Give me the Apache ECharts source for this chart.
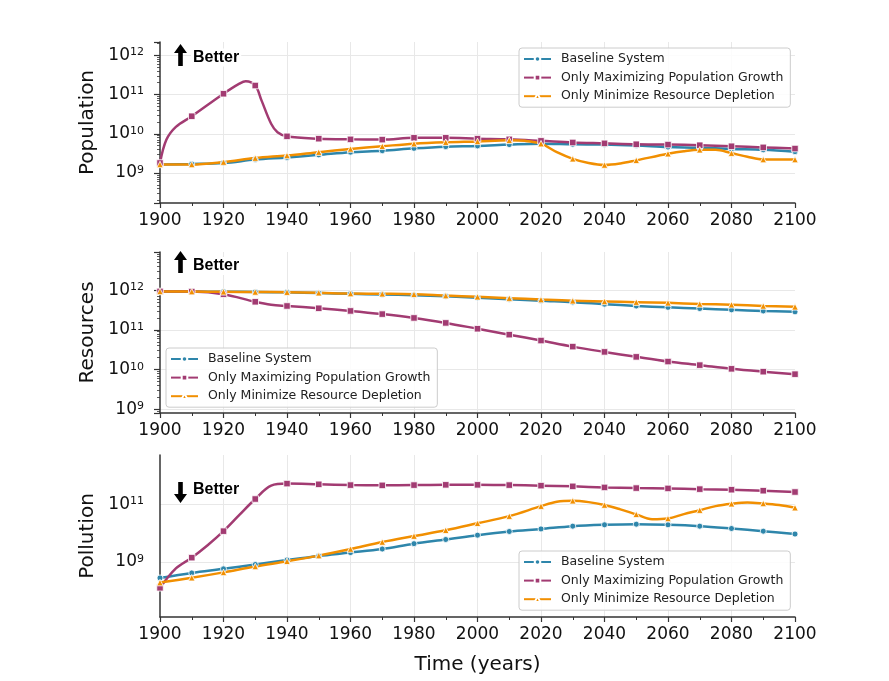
<!DOCTYPE html>
<html>
<head>
<meta charset="utf-8">
<title>Population, Resources and Pollution</title>
<script src="https://cdn.jsdelivr.net/npm/echarts@6/dist/echarts.min.js"></script>
<style>
  html, body { margin: 0; padding: 0; background: #fff; }
  #chart { width: 889px; height: 681px; }
</style>
</head>
<body>
<div id="chart"></div>
<script>
// series names, colours, markers
const names = ['Baseline System', 'Only Maximizing Population Growth', 'Only Minimize Resource Depletion'];
const colors = ['#2E86AB', '#A23B72', '#F18F01'];
const symbols = ['circle', 'rect', 'triangle'];
const panelNames = ['Population', 'Resources', 'Pollution'];

// [year, value], markers only on the decades
const popBaseline = [[1900,1.65e9],[1910,1.7e9],[1920,1.8e9],[1930,2.2e9],[1940,2.5e9],[1950,2.9e9],[1960,3.4e9],[1970,3.7e9],[1980,4.25e9],[1990,4.7e9],[2000,4.9e9],[2010,5.3e9],[2020,5.6e9],[2030,5.4e9],[2040,5.3e9],[2050,5.0e9],[2060,4.6e9],[2070,4.4e9],[2080,4.1e9],[2090,3.9e9],[2100,3.5e9]];
const popGrowth = [[1900,1.8e9],[1902,7e9],[1905,1.5e10],[1910,2.8e10],[1920,1.05e11],[1925,1.9e11],[1927,2.2e11],[1930,1.7e11],[1932,7e10],[1935,1.8e10],[1937,1.1e10],[1940,8.6e9],[1950,7.5e9],[1960,7.2e9],[1970,7.1e9],[1980,7.9e9],[1990,7.9e9],[2000,7.5e9],[2010,7.2e9],[2020,6.6e9],[2030,6.0e9],[2040,5.7e9],[2050,5.4e9],[2060,5.3e9],[2070,5.1e9],[2080,4.8e9],[2090,4.5e9],[2100,4.2e9]];
const popResource = [[1900,1.65e9],[1910,1.65e9],[1920,1.9e9],[1930,2.4e9],[1940,2.8e9],[1950,3.4e9],[1960,4.1e9],[1970,4.8e9],[1980,5.6e9],[1990,6.1e9],[2000,6.4e9],[2010,6.8e9],[2015,6.6e9],[2020,5.6e9],[2025,3.4e9],[2030,2.3e9],[2035,1.8e9],[2040,1.6e9],[2045,1.75e9],[2050,2.1e9],[2060,3.1e9],[2065,3.6e9],[2070,3.9e9],[2075,3.9e9],[2080,3.2e9],[2085,2.6e9],[2090,2.2e9],[2100,2.2e9]];

const resBaseline = [[1900,9.3e11],[1910,9.2e11],[1920,9.1e11],[1930,9.0e11],[1940,8.8e11],[1950,8.5e11],[1960,8.1e11],[1970,7.8e11],[1980,7.5e11],[1990,7.0e11],[2000,6.4e11],[2010,5.9e11],[2020,5.4e11],[2030,5.0e11],[2040,4.45e11],[2050,4.0e11],[2060,3.7e11],[2070,3.45e11],[2080,3.2e11],[2090,3.0e11],[2100,2.85e11]];
const resGrowth = [[1900,9.3e11],[1910,9.2e11],[1920,7.9e11],[1930,5.1e11],[1935,4.3e11],[1940,4.0e11],[1950,3.5e11],[1960,3.0e11],[1970,2.5e11],[1980,2.0e11],[1990,1.5e11],[2000,1.07e11],[2010,7.6e10],[2020,5.4e10],[2030,3.8e10],[2040,2.8e10],[2050,2.1e10],[2060,1.6e10],[2070,1.3e10],[2080,1.05e10],[2090,8.9e9],[2100,7.7e9]];
const resResource = [[1900,9.3e11],[1910,9.2e11],[1920,9.1e11],[1930,9.0e11],[1940,8.9e11],[1950,8.6e11],[1960,8.2e11],[1970,8.1e11],[1980,7.9e11],[1990,7.3e11],[2000,6.8e11],[2010,6.3e11],[2020,5.8e11],[2030,5.4e11],[2040,5.2e11],[2050,5.0e11],[2060,4.8e11],[2070,4.5e11],[2080,4.3e11],[2090,4.0e11],[2100,3.8e11]];

const polBaseline = [[1900,2.75e8],[1910,4.1e8],[1920,5.7e8],[1930,8.1e8],[1940,1.15e9],[1950,1.6e9],[1960,2.1e9],[1970,2.8e9],[1980,4.3e9],[1990,6.0e9],[2000,8.5e9],[2010,1.14e10],[2020,1.4e10],[2030,1.75e10],[2040,1.95e10],[2050,2.05e10],[2060,1.95e10],[2070,1.75e10],[2080,1.45e10],[2090,1.17e10],[2100,9.3e9]];
const polGrowth = [[1900,1.25e8],[1905,5.9e8],[1910,1.4e9],[1915,3.8e9],[1920,1.17e10],[1925,4.3e10],[1930,1.54e11],[1935,4.5e11],[1940,5.3e11],[1950,5.0e11],[1960,4.7e11],[1970,4.6e11],[1980,4.7e11],[1990,4.8e11],[2000,4.8e11],[2010,4.7e11],[2020,4.5e11],[2030,4.25e11],[2040,3.9e11],[2050,3.7e11],[2060,3.6e11],[2070,3.4e11],[2080,3.25e11],[2090,3.0e11],[2100,2.7e11]];
const polResource = [[1900,1.9e8],[1910,2.8e8],[1920,4.3e8],[1930,6.9e8],[1940,1.05e9],[1950,1.65e9],[1960,2.8e9],[1970,4.9e9],[1980,7.9e9],[1990,1.26e10],[2000,2.2e10],[2010,3.9e10],[2020,8.7e10],[2025,1.24e11],[2030,1.34e11],[2035,1.2e11],[2040,9.5e10],[2045,6.7e10],[2050,4.5e10],[2055,3.05e10],[2060,3.25e10],[2065,4.6e10],[2070,6.3e10],[2075,8.7e10],[2080,1.05e11],[2085,1.17e11],[2090,1.08e11],[2095,9.5e10],[2100,7.7e10]];

const panelData = [
    [popBaseline, popGrowth, popResource],
    [resBaseline, resGrowth, resResource],
    [polBaseline, polGrowth, polResource]
];

// y ranges as exponents of ten
const yExpMin = [8.235, 8.91, 7.08];
const yExpMax = [12.34, 12.96, 12.72];
// pollution panel only has gridlines every second decade
const pollutionGrid = [1e9, 1e11];

const FONT = 'DejaVu Sans';
const gridPos = [
    { left: 160, top: 42, width: 635, height: 161 },
    { left: 160, top: 252, width: 635, height: 161 },
    { left: 160, top: 455, width: 635, height: 162 }
];
const splitLine = { show: true, showMinLine: false, showMaxLine: false, lineStyle: { color: '#e8e8e8', width: 1 } };
const axisLine = { show: true, onZero: false, lineStyle: { color: '#333', width: 1.5 } };

const supLabel = (step) => (v) => {
    const e = Math.log10(v);
    const r = Math.round(e);
    if (Math.abs(e - r) > 1e-6 || (step > 1 && r % step !== 1)) return '';
    return '10{sup|' + r + '}';
};

const xAxes = gridPos.map((g, i) => ({
    type: 'value',
    gridIndex: i,
    min: 1900,
    max: 2100,
    interval: 20,
    name: i === 2 ? 'Time (years)' : '',
    nameLocation: 'middle',
    nameGap: 38,
    nameTextStyle: { fontSize: 20, color: '#111', fontFamily: FONT },
    axisLine: axisLine,
    axisTick: { show: true, length: 5, lineStyle: { color: '#333', width: 1.2 } },
    minorTick: { show: true, splitNumber: 2, length: 3, lineStyle: { color: '#333', width: 1 } },
    axisLabel: { fontSize: 17, color: '#111', margin: 9, fontFamily: FONT, formatter: (v) => String(v) },
    splitLine: splitLine
}));

const yAxes = gridPos.map((g, i) => ({
    type: 'log',
    logBase: 10,
    gridIndex: i,
    min: Math.pow(10, yExpMin[i]),
    max: Math.pow(10, yExpMax[i]),
    name: panelNames[i],
    nameLocation: 'middle',
    nameGap: 57,
    nameTextStyle: { fontSize: 20, color: '#111', fontFamily: FONT },
    axisLine: axisLine,
    axisTick: { show: i !== 2, length: 6, lineStyle: { color: '#333', width: 1.2 } },
    minorTick: { show: i !== 2, splitNumber: 9, length: 3, lineStyle: { color: '#333', width: 0.8 } },
    axisLabel: {
        showMinLabel: false,
        showMaxLabel: false,
        margin: 16,
        fontSize: 17,
        color: '#111',
        fontFamily: FONT,
        formatter: supLabel(i === 2 ? 2 : 1),
        rich: {
            sup: { fontSize: 11, verticalAlign: 'top', lineHeight: 11, color: '#111', fontFamily: FONT }
        }
    },
    splitLine: i === 2 ? { show: false } : splitLine
}));

const series = [];
panelData.forEach((sets, p) => {
    sets.forEach((pts, k) => {
        const s = {
            name: names[k],
            type: 'line',
            xAxisIndex: p,
            yAxisIndex: p,
            smooth: 0.35,
            symbol: symbols[k],
            symbolSize: k === 0 ? 6 : 6.5,
            showAllSymbol: true,
            lineStyle: { width: 2.5, color: colors[k] },
            itemStyle: { color: colors[k], borderColor: '#fff', borderWidth: 0.8 },
            emphasis: { disabled: true },
            data: pts.map(d => d[0] % 10 === 0 ? { value: d } : { value: d, symbol: 'none' })
        };
        if (p === 2 && k === 0) {
            s.markLine = {
                silent: true,
                symbol: 'none',
                label: { show: false },
                lineStyle: { color: '#e8e8e8', width: 1, type: 'solid' },
                z: 0,
                data: pollutionGrid.map(v => ({ yAxis: v }))
            };
        }
        series.push(s);
    });
});

const legendBase = {
    orient: 'vertical',
    data: names,
    itemWidth: 27,
    itemHeight: 7,
    itemGap: 4.6,
    padding: [4, 7, 4, 4],
    backgroundColor: 'rgba(255,255,255,0.85)',
    borderColor: '#cccccc',
    borderWidth: 1,
    borderRadius: 3,
    selectedMode: false,
    textStyle: { fontSize: 12.5, color: '#222', fontFamily: FONT, lineHeight: 14, padding: [0, 0, 0, 5] }
};
const legends = [
    Object.assign({}, legendBase, { left: 519, top: 48 }),
    Object.assign({}, legendBase, { left: 166, top: 348 }),
    Object.assign({}, legendBase, { left: 519, top: 551 })
];

// "Better" arrows
function arrow(cx, y0, y1, up) {
    const hw = 6.5, sw = 2.3, hh = 9;
    const pts = up
        ? [[cx, y0], [cx + hw, y0 + hh], [cx + sw, y0 + hh], [cx + sw, y1], [cx - sw, y1], [cx - sw, y0 + hh], [cx - hw, y0 + hh]]
        : [[cx, y1], [cx + hw, y1 - hh], [cx + sw, y1 - hh], [cx + sw, y0], [cx - sw, y0], [cx - sw, y1 - hh], [cx - hw, y1 - hh]];
    return { type: 'polygon', shape: { points: pts }, style: { fill: '#000' }, silent: true, z: 10 };
}
function better(y) {
    return {
        type: 'text', silent: true, z: 10,
        style: {
            text: 'Better', x: 191, y: y, fontSize: 16, fontWeight: 'bold', fontFamily: 'Liberation Sans',
            fill: '#000', verticalAlign: 'middle', backgroundColor: '#fff', padding: [1, 2, 1, 2]
        }
    };
}

const chart = echarts.init(document.getElementById('chart'), null, { renderer: 'canvas' });
chart.setOption({
    animation: false,
    backgroundColor: '#fff',
    textStyle: { fontFamily: FONT },
    grid: gridPos,
    xAxis: xAxes,
    yAxis: yAxes,
    legend: legends,
    series: series,
    graphic: [
        arrow(180.5, 44, 66, true), better(57.5),
        arrow(180.5, 251, 273, true), better(266),
        arrow(180.5, 482, 503, false), better(489.5)
    ]
});
</script>
</body>
</html>
